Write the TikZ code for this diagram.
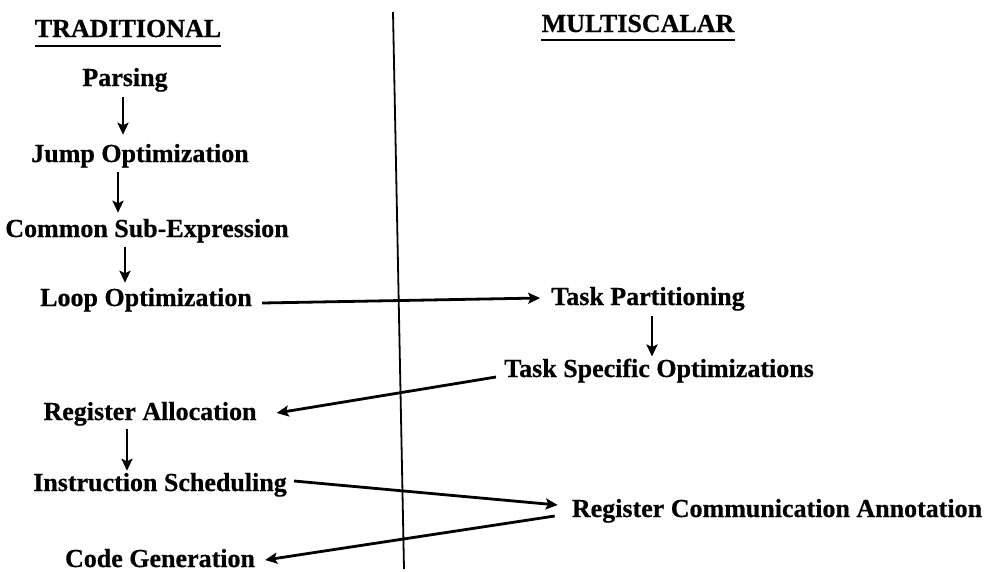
\documentclass[tikz,border=0pt]{standalone}
\usepackage{fontspec}
\setmainfont{Liberation Serif}[BoldFeatures={FakeBold=0.6}]
\usetikzlibrary{arrows.meta}
\begin{document}
\begin{tikzpicture}[x=1pt,y=-1pt,
  lbl/.style={font=\fontsize{26}{30}\selectfont\bfseries, inner sep=0pt, anchor=base},
  arr/.style={line width=2.8pt, -{Stealth[length=12pt,width=11pt,inset=2.5pt]}},
  uline/.style={line width=2.8pt},
  divider/.style={line width=1.8pt}]
\useasboundingbox (0,0) rectangle (995,571);
% headings
\node[lbl] (trad) at (128,37) {TRADITIONAL};
\node[lbl] (multi) at (638,32) {MULTISCALAR};
\draw[uline] ([yshift=-9pt]trad.base west) -- ([yshift=-9pt]trad.base east);
\draw[uline] ([yshift=-8pt]multi.base west) -- ([yshift=-8pt]multi.base east);
% divider
\coordinate (dtop) at (393,12);
\coordinate (dbot) at (404,569);
\draw[divider] (dtop) -- (dbot);
% traditional column
\node[lbl] (parsing) at (125,86) {Parsing};
\node[lbl] (jump) at (140,162) {Jump Optimization};
\node[lbl] (common) at (147,237) {Common Sub-Expression};
\node[lbl] (loop) at (146,306) {Loop Optimization};
\node[lbl] (ra) at (150,420) {Register Allocation};
\node[lbl] (is) at (160,491) {Instruction Scheduling};
\node[lbl] (cg) at (160,567) {Code Generation};
% multiscalar column
\node[lbl] (tp) at (648,305) {Task Partitioning};
\node[lbl] (ts) at (659,377) {Task Specific Optimizations};
\node[lbl] (rca) at (777,517) {Register Communication Annotation};
% vertical arrows
\draw[arr] ([xshift=-2pt,yshift=-5pt]parsing.south) -- ([xshift=-17pt,yshift=9pt]jump.north);
\draw[arr] ([xshift=-22pt,yshift=-4pt]jump.south) -- ([xshift=-29pt,yshift=6pt]common.north);
\draw[arr] ([xshift=-22pt,yshift=-4pt]common.south) -- ([xshift=-21pt,yshift=5pt]loop.north);
\draw[arr] ([xshift=4pt,yshift=-5pt]tp.south) -- ([xshift=-7pt,yshift=2pt]ts.north);
\draw[arr] ([xshift=-23pt,yshift=-3pt]ra.south) -- ([xshift=-33pt,yshift=2pt]is.north);
% cross arrows
\draw[arr] ([xshift=10pt,yshift=3pt]loop.base east) -- ([xshift=-11pt,yshift=7pt]tp.base west);
\draw[arr] ([xshift=-8pt]ts.base west) -- ([xshift=20pt,yshift=7pt]ra.base east);
\draw[arr] ([xshift=7pt,yshift=10pt]is.base east) -- ([xshift=-14pt,yshift=12pt]rca.base west);
\draw[arr] ([xshift=-17pt,yshift=1pt]rca.base west) -- ([xshift=10pt,yshift=7pt]cg.base east);
\end{tikzpicture}
\end{document}
